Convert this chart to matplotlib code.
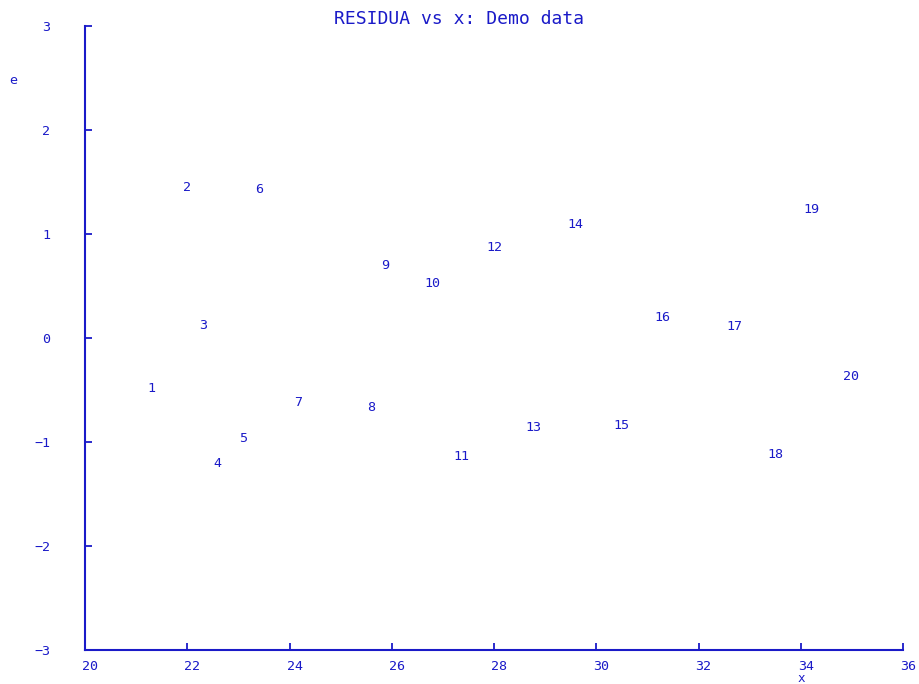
import matplotlib
matplotlib.use('Agg')
import matplotlib.pyplot as plt
import matplotlib.transforms as mtransforms

obs = list(range(1, 21))
x_vals = [21.29, 22.00, 22.31, 22.58, 23.09, 23.40, 24.17, 25.59, 25.87, 26.79,
          27.37, 28.00, 28.78, 29.60, 30.50, 31.29, 32.71, 33.50, 34.20, 34.98]
e_vals = [-0.49, 1.45, 0.12, -1.21, -0.97, 1.43, -0.62, -0.67, 0.70, 0.52,
          -1.14, 0.87, -0.86, 1.09, -0.84, 0.20, 0.11, -1.12, 1.24, -0.37]
x_ticks = [20, 22, 24, 26, 28, 30, 32, 34, 36]
y_ticks = [-3, -2, -1, 0, 1, 2, 3]

blue = '#1a1ac8'
plt.rcParams['font.family'] = 'DejaVu Sans Mono'

fig = plt.figure(figsize=(9.19, 6.84), dpi=100)
ax = fig.add_axes([85 / 919, 34 / 684, 818 / 919, 624 / 684])

for n, xv, ev in zip(obs, x_vals, e_vals):
    ax.text(xv, ev, str(n), color=blue, fontsize=9.6, ha='center', va='center')

ax.set_xlim(20, 36)
ax.set_ylim(-3, 3)
ax.set_xticks(x_ticks)
ax.set_yticks(y_ticks)
ax.set_xticklabels([str(t) for t in x_ticks])
ax.set_yticklabels([str(t).replace('-', '\u2212') for t in y_ticks])

for side in ['top', 'right']:
    ax.spines[side].set_visible(False)
for side in ['left', 'bottom']:
    ax.spines[side].set_color(blue)
    ax.spines[side].set_linewidth(1.5)

ax.tick_params(axis='both', direction='in', length=5, width=1.3, color=blue,
               labelcolor=blue, labelsize=9.6)
ax.tick_params(axis='x', pad=7)
ax.tick_params(axis='y', pad=25)

# x tick labels start just left of the tick
shift = mtransforms.ScaledTranslation(-3 / 100, 0, fig.dpi_scale_trans)
for lab in ax.get_xticklabels():
    lab.set_horizontalalignment('left')
    lab.set_transform(lab.get_transform() + shift)

fig.text(0.5, 1 - 19 / 684, 'RESIDUA vs x: Demo data', color=blue, fontsize=13,
         ha='center', va='center')
fig.text(13 / 919, 1 - 80 / 684, 'e', color=blue, fontsize=9.6, ha='center', va='center')
fig.text(801 / 919, 1.5 / 684, 'x', color=blue, fontsize=9, ha='center', va='baseline')

fig.savefig('out.png', dpi=100, facecolor='white')
